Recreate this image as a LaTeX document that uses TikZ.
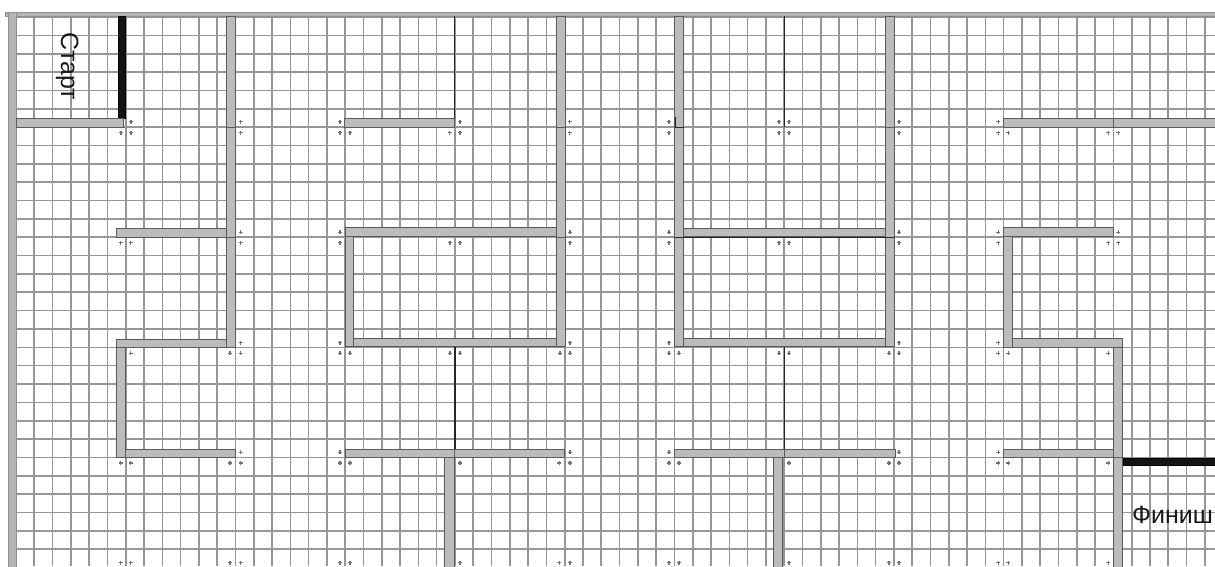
\documentclass[tikz,border=0pt]{standalone}
\usepackage{fontspec}
\setmainfont{Liberation Sans}
\definecolor{gridc}{RGB}{150,150,150}
\definecolor{wallf}{RGB}{188,188,188}
\definecolor{walld}{RGB}{90,90,90}
\definecolor{borderf}{RGB}{180,180,180}
\definecolor{mkc}{RGB}{115,115,115}
\tikzset{
  gridline/.style={draw=gridc, line width=1.6pt},
  wall/.style={fill=wallf, draw=walld, line width=0.8pt},
  borderbar/.style={fill=borderf, draw=borderf!80!black, line width=0.4pt},
  blackwall/.style={fill=black!92, draw=black},
  thinblack/.style={draw=black!85, line width=1.1pt},
  mk/.style={draw=mkc, line width=1.2pt},
  lbl/.style={font=\fontsize{25}{30}\selectfont, inner sep=0pt, text=black!90}
}
\begin{document}
\begin{tikzpicture}[x=1pt,y=-1pt]
\useasboundingbox (0,0) rectangle (1215,566);
\fill[white] (0,0) rectangle (1215,566);
\begin{scope}
\clip (0,0) rectangle (1215,566);
% grid
\foreach \k in {0,...,65} \draw[gridline] ({16+18.29*\k},16) -- ({16+18.29*\k},566);
\foreach \k in {0,...,29} \draw[gridline] (16,{17+18.35*\k}) -- (1215,{17+18.35*\k});
% borders
\draw[borderbar] (5,11.7) rectangle (1216,16);
\draw[borderbar] (8.3,11.7) rectangle (16,567);
% ---- module 1
\draw[blackwall] (118,16.5) rectangle (125,118.3);
\draw[wall] (16,118.3) rectangle (123.3,127.5);
\draw[wall] (226.7,16) rectangle (235.3,127.3);
\draw[wall] (226.7,127.3) rectangle (235.3,237);
\draw[wall] (226.7,237) rectangle (235.3,347);
\draw[wall] (116,228.3) rectangle (226.7,237);
\draw[wall] (116,339) rectangle (125,457.3);
\draw[wall] (116.7,339) rectangle (226.7,347.3);
\draw[wall] (125,449) rectangle (235.7,457.3);
% ---- module 2
\draw[wall] (344.3,118.3) rectangle (454,127.3);
\draw[thinblack] (454.5,16) -- (454.5,118.3);
\draw[wall] (556,16) rectangle (565,127.3);
\draw[wall] (556,127.3) rectangle (565,237);
\draw[wall] (556,237) rectangle (565,346.7);
\draw[wall] (345,227.7) rectangle (556,236.3);
\draw[wall] (345,236.3) rectangle (353.3,346.7);
\draw[wall] (353.3,338.3) rectangle (556,346.7);
\draw[thinblack] (455,346.7) -- (455,449);
\draw[wall] (444.3,457.7) rectangle (454,567);
\draw[wall] (345,449) rectangle (454.3,457.7);
\draw[wall] (454.3,449) rectangle (564.3,457.7);
% ---- module 3
\draw[wall] (674.3,16) rectangle (683.5,127.3);
\draw[wall] (674.3,127.3) rectangle (683.5,237);
\draw[wall] (674.3,237) rectangle (683.5,346.7);
\draw[thinblack] (675.5,117) -- (675.5,127.3) -- (683.5,127.3);
\draw[thinblack] (784.3,16) -- (784.3,127.3);
\draw[wall] (885,16) rectangle (894,127.3);
\draw[wall] (885,127.3) rectangle (894,237);
\draw[wall] (885,237) rectangle (894,346.7);
\draw[wall] (683.5,228.3) rectangle (885,236.7);
\draw[thinblack] (675,237.5) -- (894,237.5);
\draw[wall] (683.5,338.3) rectangle (885,346.7);
\draw[thinblack] (784.3,346.7) -- (784.3,449);
\draw[wall] (773.3,457.7) rectangle (782.7,567);
\draw[wall] (674.3,449) rectangle (784.3,457.7);
\draw[wall] (784.3,449) rectangle (895,457.7);
% ---- module 4
\draw[wall] (1003.3,118.3) rectangle (1113.3,127.7);
\draw[wall] (1113.3,118.3) rectangle (1217,127.7);
\draw[wall] (1003.3,227.7) rectangle (1113.3,236.7);
\draw[wall] (1003.3,236.7) rectangle (1012.3,347);
\draw[wall] (1012.3,338.3) rectangle (1122.7,347);
\draw[wall] (1113.3,347) rectangle (1122.7,457.3);
\draw[wall] (1113.3,457.3) rectangle (1122.7,567);
\draw[wall] (1003.3,449) rectangle (1113.3,457.3);
\draw[blackwall] (1122.7,458.3) rectangle (1217,465);
% ---- markers
\foreach \x/\y in {
 131/121.7,121/132.5,131/132.5, 240.5/121.7,240.5/132.5, 340/121.7,340/132.5,350/132.5,
 449.5/132.5,460/121.7,460/132.5, 569.5/121.7,569.5/132.5, 669/121.7,669/132.5,
 779/121.7,789/121.7,779/132.5,789/132.5, 899/121.7,899/132.5,
 998.3/121.7,998.3/132.5,1008.3/132.5, 1108.3/132.5,1118.3/132.5,
 120.7/242.7,130.7/242.7, 240.5/232.3,240.5/242.7, 340/232.3,340/242.7, 450/242.7,460/242.7,
 570/232.3,570/242.7, 669/232.3,669/242.7, 779/242.7,789/242.7, 899/232.3,899/242.7,
 998.3/232.3,998.3/242.7, 1118.3/232.3,1108.3/242.7,1118.3/242.7,
 130.7/353.3, 240.5/342.5,230/353.3,240.5/353.3, 340/342.5,340/353.3,350/353.3,
 450/353.3,460/353.3, 570/342.5,560/353.3,570/353.3, 669/342.5,669/353.3,679/353.3,
 779/353.3,789/353.3, 899/342.5,889/353.3,899/353.3, 998.3/342.5,998.3/353.3,1008.3/353.3,
 1108.3/353.3,
 120.7/463,130.7/463, 240.5/452.3,230/463,240.5/463, 340/452.3,340/463,350/463, 460/463,
 570/452.3,559.3/463,570/463, 669/452.3,669/463,679/463, 789/463, 899/452.3,889/463,899/463,
 998.3/452.3,998.3/463,1008.3/463, 1108.3/463,
 120.7/562.5,130.7/562.5,230/562.5,240.5/562.5,340/562.5,350/562.5,460/562.5,559.3/562.5,
 570/562.5,669/562.5,679/562.5,789/562.5,889/562.5,899/562.5,998.3/562.5,1008.3/562.5,1108.3/562.5}
  \draw[mk] (\x-2,\y) -- (\x+2,\y) (\x,\y-2) -- (\x,\y+2);
% ---- labels
\node[lbl, rotate=-90, anchor=base west] (start) at (61,32) {Старт};
\node[lbl, anchor=base west] (finish) at (1132,523) {Финиш};
\end{scope}
\end{tikzpicture}
\end{document}
